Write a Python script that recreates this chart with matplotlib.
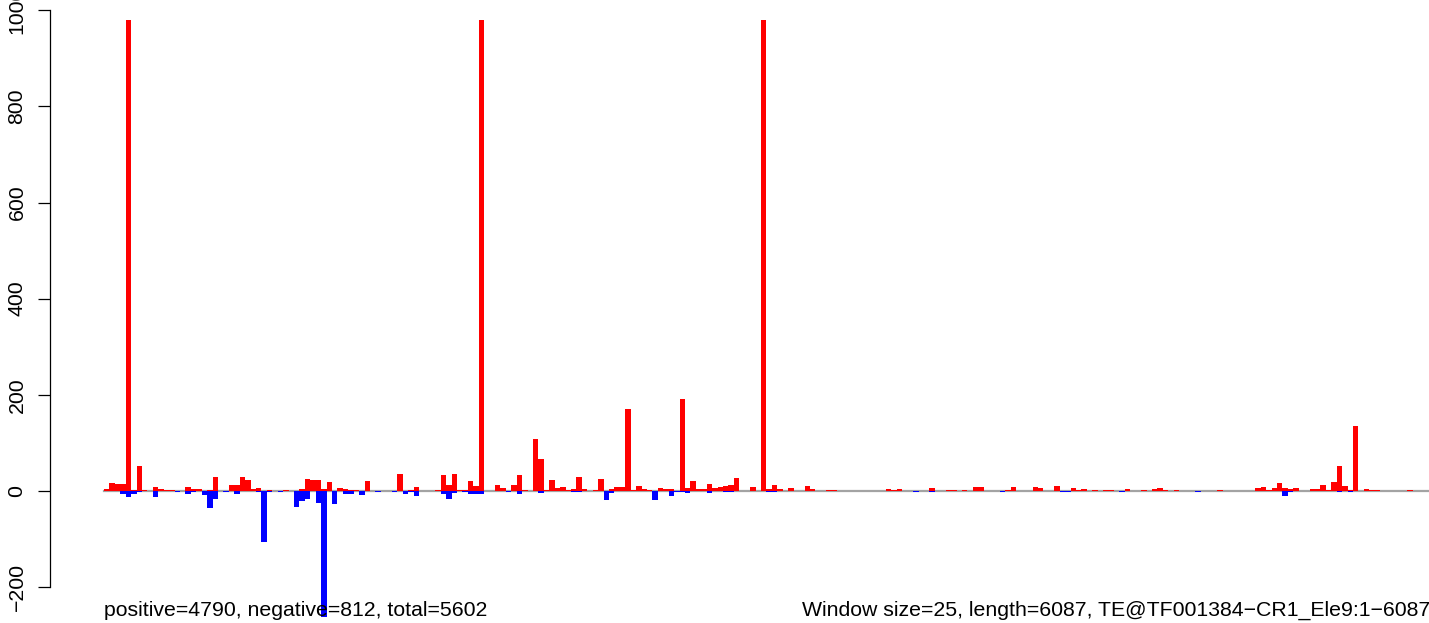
import matplotlib
matplotlib.use("Agg")
import numpy as np
import matplotlib.pyplot as plt

# counts per 25-bp window (244 windows over 6087 bp)
pos_counts = [
    3.5, 16, 14, 14, 980, 2, 53, 1.5, 0, 8,
    4, 1.5, 1.5, 0, 0, 8, 4, 4, 0, 1.5,
    30, 0, 0, 12, 12, 30, 23, 4, 6, 0,
    1.5, 0, 0, 1.5, 0, 0, 3.5, 24, 23, 23,
    3.5, 18, 0, 6, 3.5, 1.5, 1.5, 0, 20, 0,
    0, 0, 0, 0, 35, 0, 1.5, 8, 0, 0,
    0, 1.5, 33, 12, 35, 1.5, 1.5, 20, 10, 980,
    0, 0, 12, 6, 0, 12, 33, 1.5, 0, 108,
    66, 1.5, 22, 6, 8, 1.5, 3.5, 30, 3.5, 0,
    1.5, 24, 0, 3.5, 8, 8, 170, 1.5, 10, 3.5,
    1.5, 0, 6, 3.5, 3.5, 0, 191, 6, 20, 3.5,
    3.5, 14, 6, 8, 10, 12, 28, 0, 0, 8,
    0, 980, 3.5, 12, 3.5, 0, 6, 0, 0, 10,
    3.5, 0, 0, 1.5, 1.5, 0, 0, 0, 0, 0,
    0, 0, 0, 0, 3.5, 1.5, 3.5, 0, 0, 0,
    0, 0, 5.5, 0, 0, 1.5, 1.5, 0, 1.5, 0,
    7.5, 7.5, 0, 0, 0, 0, 1.5, 7.5, 0, 0,
    0, 7.5, 5.5, 0, 0, 10, 0, 0, 5.5, 1.5,
    3.5, 0, 1.5, 0, 1.5, 1.5, 0, 0, 3.5, 0,
    0, 1.5, 0, 3.5, 5.5, 1.5, 0, 1.5, 0, 0,
    0, 0, 0, 0, 0, 1.5, 0, 0, 0, 0,
    0, 0, 5.5, 7.5, 1.5, 5.5, 16, 5.5, 3.5, 5.5,
    0, 0, 3.5, 3.5, 12, 1.5, 18, 51, 10, 1.5,
    135, 0, 3.5, 1.5, 1.5, 0, 0, 0, 0, 0,
    1.5, 0, 0, 0,
]
neg_counts = [
    -1, -1, 0, -6, -12, -6, -3, 0, 0, -12,
    0, 0, 0, -2, 0, -6, -3, 0, -8, -35,
    -16, 0, -3, 0, -6, 0, 0, 0, -3, -106,
    -3, 0, -2, 0, 0, -33, -21, -16, 0, -24,
    -261, 0, -27, 0, -6, -6, 0, -9, 0, 0,
    -2, 0, 0, -2, 0, -6, -3, -10, 0, 0,
    0, 0, -6, -17, -4, 0, -2, -6, -6, -6,
    0, 0, 0, 0, -2, 0, -6, 0, 0, 0,
    -4, 0, 0, 0, 0, 0, -2, -2, 0, 0,
    0, 0, -19, -4, 0, 0, 0, 0, 0, 0,
    0, -19, 0, 0, -10, -2, -2, -4, 0, 0,
    0, -4, 0, 0, -2, -2, 0, 0, 0, 0,
    0, 0, -2, -2, 0, 0, 0, 0, 0, 0,
    0, 0, 0, 0, 0, 0, 0, 0, 0, 0,
    0, 0, 0, 0, 0, 0, 0, 0, 0, -2,
    0, 0, -2, 0, 0, 0, 0, 0, 0, 0,
    0, 0, 0, 0, 0, -2, 0, 0, 0, 0,
    0, 0, 0, 0, 0, 0, -2, -2, 0, 0,
    0, 0, 0, 0, 0, 0, 0, -2, 0, 0,
    0, 0, 0, 0, 0, 0, 0, 0, 0, 0,
    0, -2, 0, 0, 0, 0, 0, 0, 0, 0,
    0, 0, 0, 0, 0, 0, 0, -11, -2, 0,
    0, 0, 0, 0, -1, 0, 0, -2, 0, -2,
    0, 0, 0, 0, 0, 0, 0, 0, 0, 0,
    0, 0, 0, 0,
]
y_ticks = [-200, 0, 200, 400, 600, 800, 1000]
left_note = "positive=4790, negative=812, total=5602"
right_note = "Window size=25, length=6087, TE@TF001384\u2212CR1_Ele9:1\u22126087"

plt.rcParams["font.family"] = ["Liberation Sans", "DejaVu Sans"]
fs = 15.3

W, H = 1429, 623
fig = plt.figure(figsize=(W / 100, H / 100), dpi=100)
ax = fig.add_axes([50 / W, 0, 1379 / W, 1])

x = np.arange(len(pos_counts))
ax.plot([0, len(pos_counts)], [0, 0], color="#a3a3a3", lw=1.6, zorder=1)
ax.bar(x, pos_counts, width=1, align="edge", color="#ff0000", lw=0, zorder=2)
ax.bar(x, neg_counts, width=1, align="edge", color="#0000ff", lw=0, zorder=2)

ax.set_xlim(-9.94, 244.0)
ax.set_ylim(-274.5, 1021.2)
for s in ["top", "right", "bottom"]:
    ax.spines[s].set_visible(False)
ax.spines["left"].set_bounds(-200, 1000)
ax.spines["left"].set_linewidth(0.9)
ax.set_xticks([])
ax.set_yticks(y_ticks)
ax.tick_params(axis="y", length=8.6, width=0.9, pad=8.3, labelsize=fs,
               labelrotation=90)
for lab in ax.get_yticklabels():
    lab.set_va("center")

fig.text(104 / W, 7 / H, left_note, fontsize=fs, va="baseline", ha="left")
fig.text(802 / W, 7 / H, right_note, fontsize=fs, va="baseline", ha="left")

fig.savefig("out.png", dpi=100)
